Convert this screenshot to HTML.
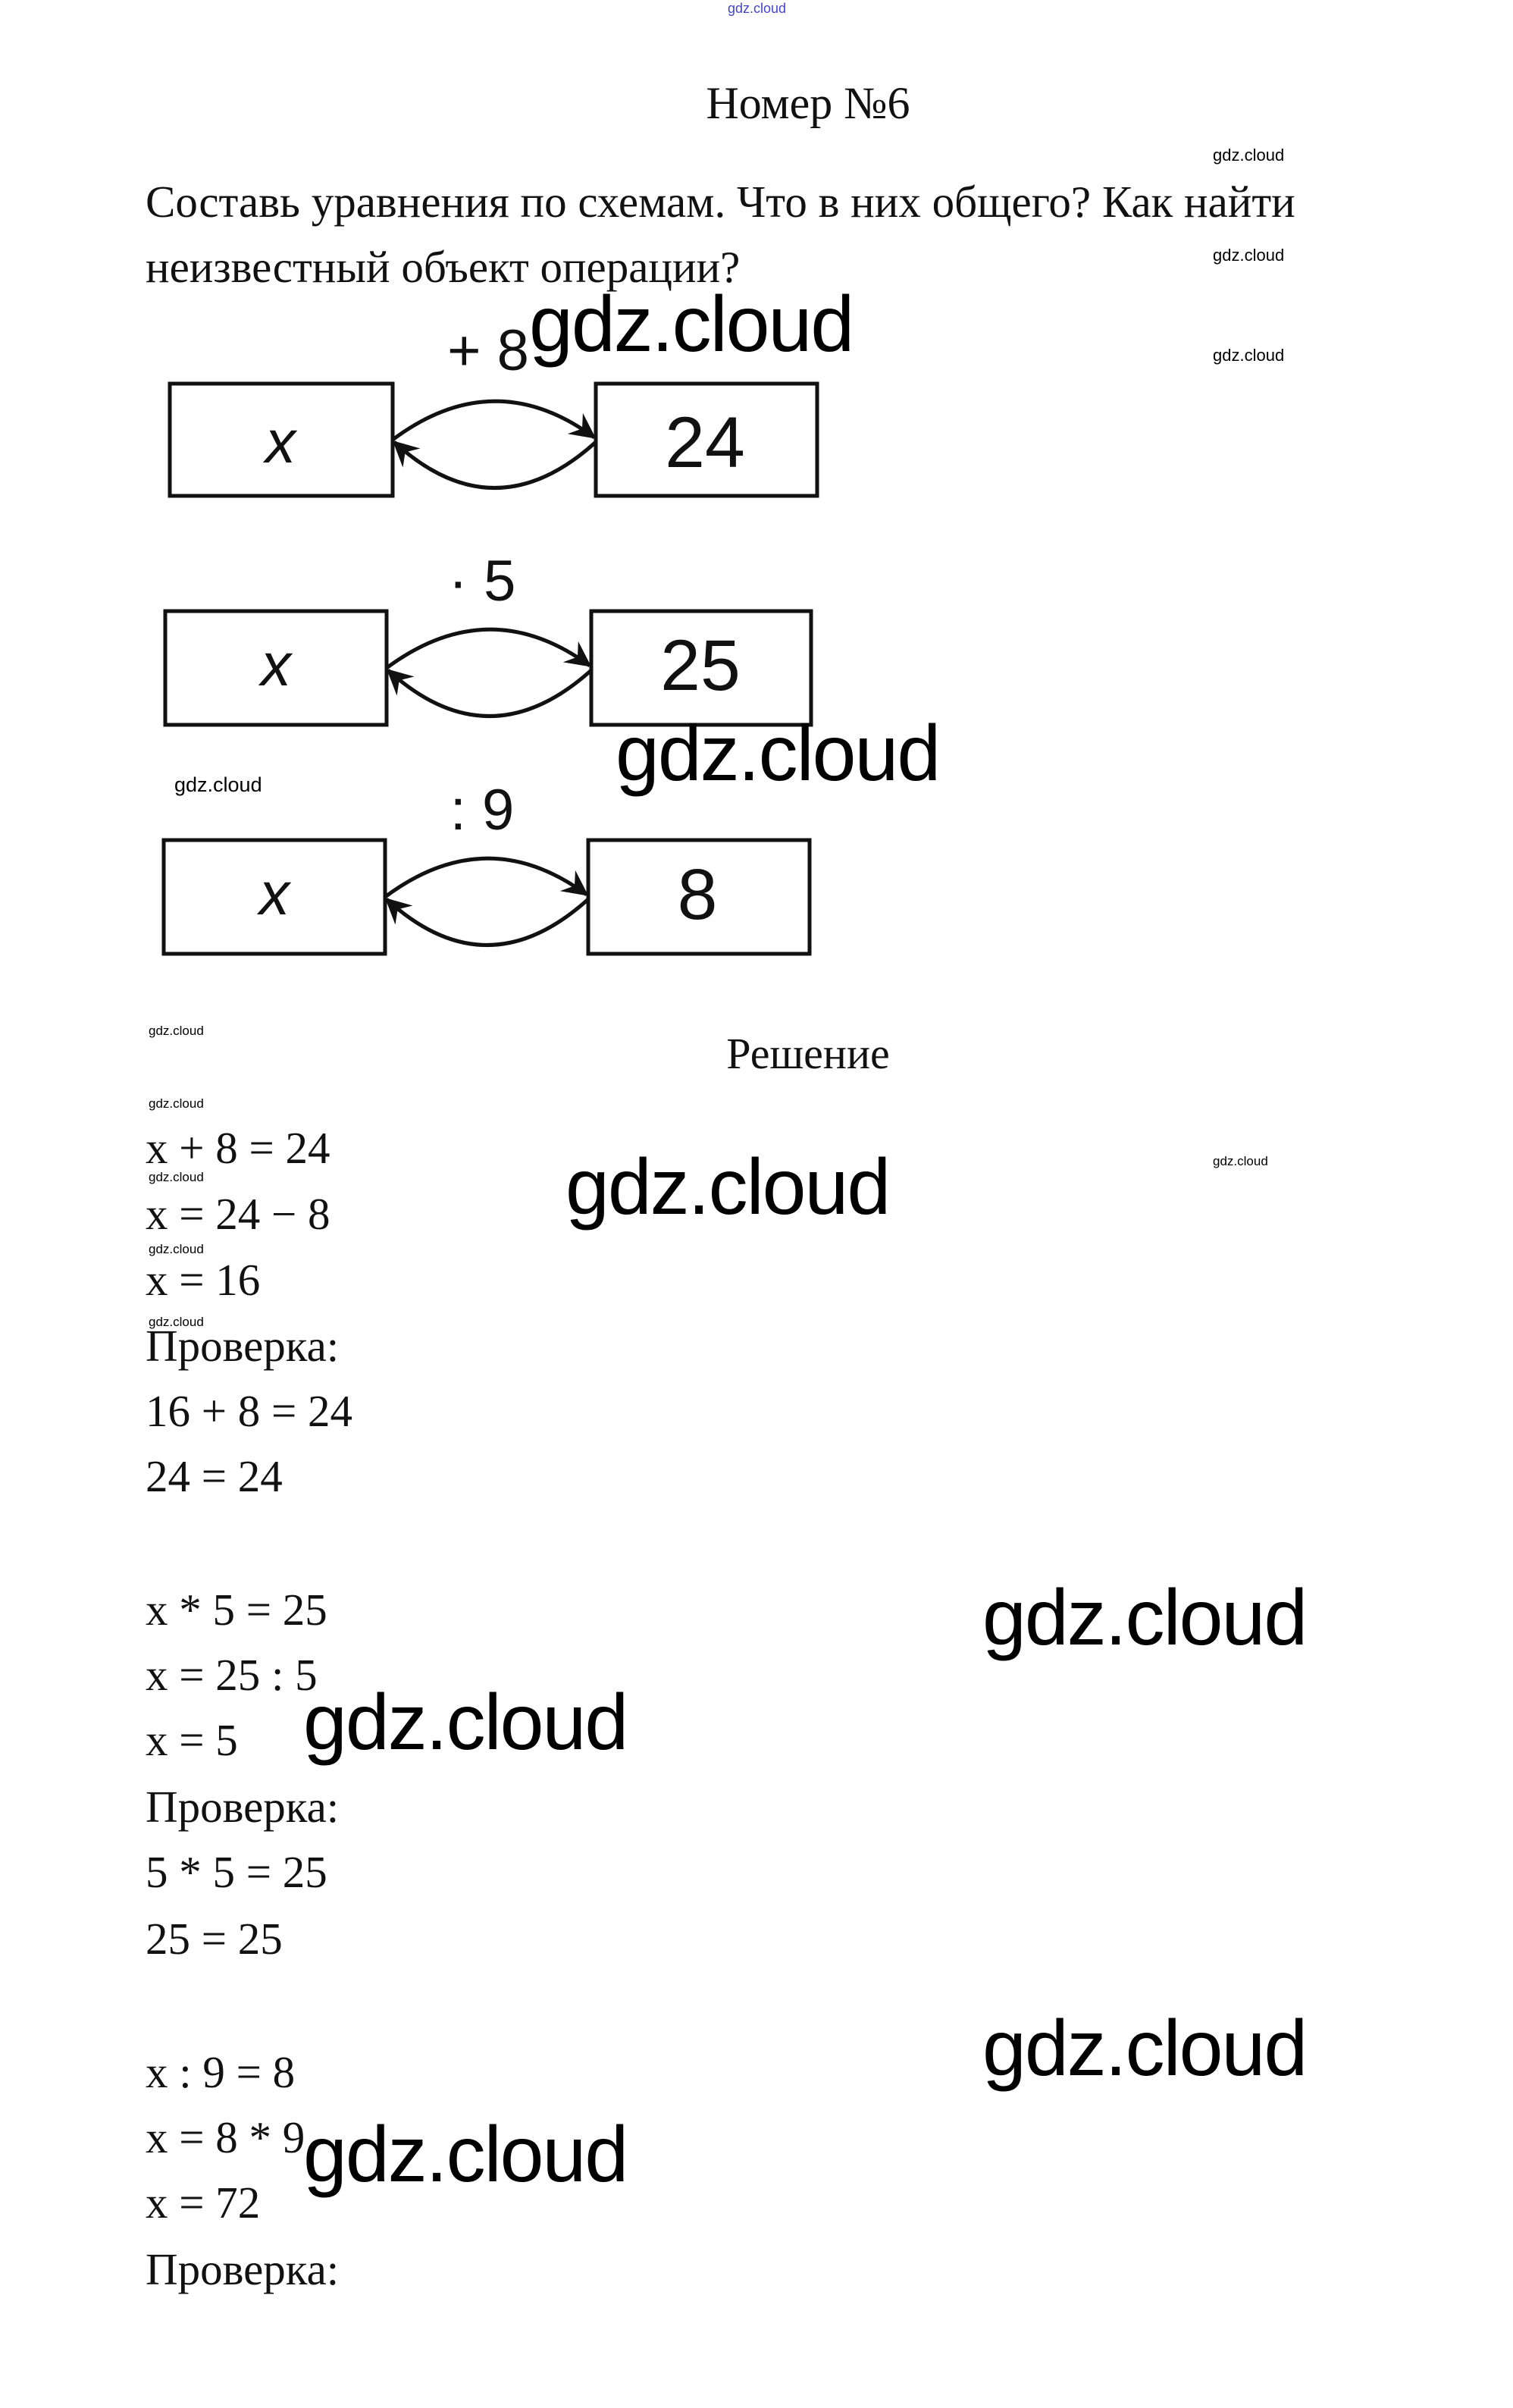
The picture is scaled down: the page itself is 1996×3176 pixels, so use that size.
<!DOCTYPE html>
<html><head><meta charset="utf-8"><style>
html,body{margin:0;padding:0;background:#fff;}
body{width:1996px;height:3176px;position:relative;overflow:hidden;}
.s{position:absolute;font-family:"Liberation Serif","Noto Serif CJK SC",serif;color:#111;line-height:1;white-space:nowrap;}
.w{position:absolute;font-family:"Liberation Sans","DejaVu Sans",sans-serif;color:#000;line-height:1;white-space:nowrap;}
.b{font-size:104px;letter-spacing:-2px;}
.sm{font-size:22px;}
.xs{font-size:17px;}
.m{font-size:59px;left:192px;}
</style></head><body>
<div class="w" style="left:960px;top:2px;font-size:18px;color:#4444cc;">gdz.cloud</div>
<div class="s" style="left:0;width:2132px;text-align:center;top:106px;font-size:60px;">Номер №6</div>
<div class="s" style="left:192px;top:237px;font-size:59px;">Составь уравнения по схемам. Что в них общего? Как найти</div>
<div class="s" style="left:192px;top:323px;font-size:59px;">неизвестный объект операции?</div>
<div class="w sm" style="left:1600px;top:194px;">gdz.cloud</div>
<div class="w sm" style="left:1600px;top:326px;">gdz.cloud</div>
<div class="w sm" style="left:1600px;top:458px;">gdz.cloud</div>

<svg style="position:absolute;left:0;top:0" width="1996" height="1400" viewBox="0 0 1996 1400">
<defs>
<marker id="h" viewBox="0 0 12 12" refX="11" refY="6" markerWidth="34" markerHeight="34" orient="auto" markerUnits="userSpaceOnUse"><path d="M0,0 L12,6 L0,12 L4,6 Z" fill="#111"/></marker></defs>
<g fill="none" stroke="#111" stroke-width="5">
<rect x="224" y="506" width="294" height="148"/><rect x="786" y="506" width="292" height="148"/>
<path d="M518,580 Q652,480 784,577" marker-end="url(#h)"/>
<path d="M786,583 Q652,704 520,583" marker-end="url(#h)"/>
<rect x="218" y="806" width="292" height="150"/><rect x="780" y="806" width="290" height="150"/>
<path d="M510,881 Q645,781 778,878" marker-end="url(#h)"/>
<path d="M780,884 Q645,1005 512,884" marker-end="url(#h)"/>
<rect x="216" y="1108" width="292" height="150"/><rect x="776" y="1108" width="292" height="150"/>
<path d="M508,1183 Q642,1083 774,1180" marker-end="url(#h)"/>
<path d="M776,1186 Q642,1307 510,1186" marker-end="url(#h)"/>
</g>
<g font-family="Liberation Sans, sans-serif" fill="#111" font-size="80" text-anchor="middle">
<text x="370" y="610" font-style="italic">x</text><text x="930" y="616" font-size="95">24</text>
<text x="364" y="904" font-style="italic">x</text><text x="924" y="910" font-size="95">25</text>
<text x="362" y="1206" font-style="italic">x</text><text x="920" y="1212" font-size="95">8</text>
<text x="644" y="488" font-size="76">+ 8</text>
<text x="636" y="792" font-size="76">· 5</text>
<text x="636" y="1094" font-size="76">: 9</text>
</g>
</svg>
<div class="w b" style="left:698px;top:376px;">gdz.cloud</div>
<div class="w b" style="left:812px;top:942px;">gdz.cloud</div>
<div class="w" style="left:230px;top:1022px;font-size:27px;">gdz.cloud</div>

<div class="s" style="left:0;width:2132px;text-align:center;top:1361px;font-size:58px;">Решение</div>
<div class="w xs" style="left:196px;top:1351px;">gdz.cloud</div>
<div class="w xs" style="left:196px;top:1447px;">gdz.cloud</div>
<div class="w xs" style="left:196px;top:1544px;">gdz.cloud</div>
<div class="w xs" style="left:196px;top:1639px;">gdz.cloud</div>
<div class="w xs" style="left:196px;top:1735px;">gdz.cloud</div>
<div class="w xs" style="left:1600px;top:1523px;">gdz.cloud</div>

<div class="s m" style="top:1485px;">x + 8 = 24</div>
<div class="s m" style="top:1572px;">x = 24 − 8</div>
<div class="s m" style="top:1659px;">x = 16</div>
<div class="s m" style="top:1746px;">Проверка:</div>
<div class="s m" style="top:1832px;">16 + 8 = 24</div>
<div class="s m" style="top:1918px;">24 = 24</div>

<div class="s m" style="top:2094px;">x * 5 = 25</div>
<div class="s m" style="top:2180px;">x = 25 : 5</div>
<div class="s m" style="top:2266px;">x = 5</div>
<div class="s m" style="top:2354px;">Проверка:</div>
<div class="s m" style="top:2440px;">5 * 5 = 25</div>
<div class="s m" style="top:2528px;">25 = 25</div>

<div class="s m" style="top:2704px;">x : 9 = 8</div>
<div class="s m" style="top:2790px;">x = 8 * 9</div>
<div class="s m" style="top:2876px;">x = 72</div>
<div class="s m" style="top:2964px;">Проверка:</div>

<div class="w b" style="left:746px;top:1514px;">gdz.cloud</div>
<div class="w b" style="left:1296px;top:2082px;">gdz.cloud</div>
<div class="w b" style="left:400px;top:2220px;">gdz.cloud</div>
<div class="w b" style="left:1296px;top:2650px;">gdz.cloud</div>
<div class="w b" style="left:400px;top:2790px;">gdz.cloud</div>
</body></html>
